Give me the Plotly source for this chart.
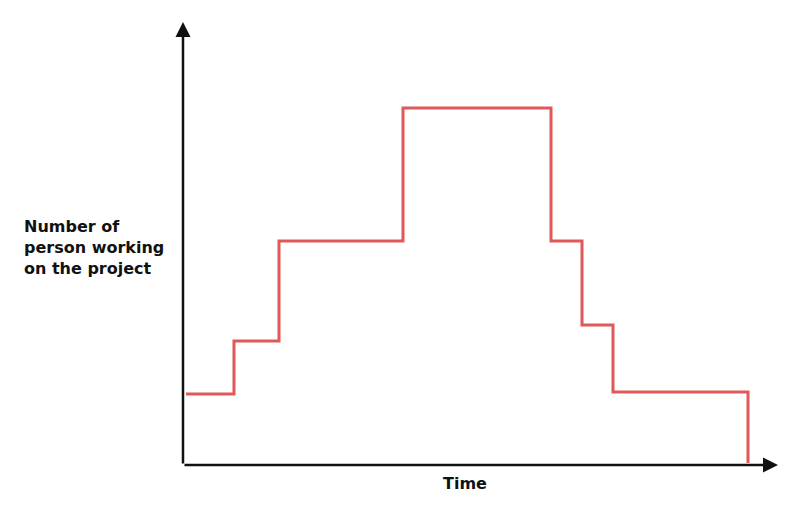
import plotly.graph_objects as go

# Time (arbitrary units) and number of persons (arbitrary units)
time = [0.3, 5.1, 9.6, 22.0, 36.8, 39.9, 43.0, 56.5]
persons = [7.1, 12.4, 22.4, 35.7, 22.4, 14.0, 7.3, 0.2]

x_label = "Time"
y_label = "Number of<br>person working<br>on the project"

fig = go.Figure()
fig.add_trace(go.Scatter(
    x=time, y=persons, mode="lines", line_shape="hv",
    line=dict(color="#e05858", width=3), hoverinfo="skip", showlegend=False,
))

axis_common = dict(showgrid=False, zeroline=False, showticklabels=False, ticks="", showline=False)
fig.update_xaxes(range=[0, 59.5], **axis_common)
fig.update_yaxes(range=[0, 44.3], **axis_common)

# axis arrows
arrow = dict(showarrow=True, arrowhead=2, arrowsize=1.2, arrowwidth=2.5, arrowcolor="#111111", text="",
             xref="x domain", yref="y domain", axref="x domain", ayref="y domain")
fig.add_annotation(x=0, y=1, ax=0, ay=0, **arrow)
fig.add_annotation(x=1, y=0, ax=0, ay=0, **arrow)

font = dict(family="DejaVu Sans", size=16, color="#111111")
fig.add_annotation(x=-0.2706, y=0.49, xref="paper", yref="paper", xanchor="left", yanchor="middle",
                   align="left", showarrow=False, text="<b>" + y_label.replace("<br>", "</b><br><b>") + "</b>",
                   font=font)
fig.add_annotation(x=0.474, y=-0.041, xref="paper", yref="paper", xanchor="center", yanchor="middle",
                   showarrow=False, text="<b>" + x_label + "</b>", font=font)

fig.update_layout(
    width=778, height=520,
    margin=dict(l=175, r=8, t=14, b=63),
    plot_bgcolor="white", paper_bgcolor="white",
)

fig.write_html("out.html")
